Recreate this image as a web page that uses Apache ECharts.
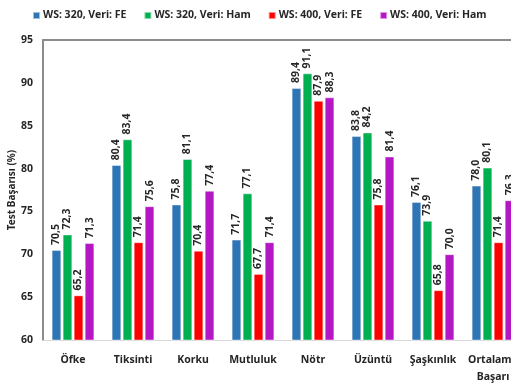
<!DOCTYPE html>
<html>
<head>
<meta charset="utf-8">
<script src="https://cdn.jsdelivr.net/npm/echarts@6/dist/echarts.min.js"></script>
<style>
  html, body { margin: 0; padding: 0; background: #fff; }
  #chart { width: 511px; height: 385px; }
</style>
</head>
<body>
<div id="chart"></div>
<script>
// Emotion categories on the x axis
const categories = ['Öfke', 'Tiksinti', 'Korku', 'Mutluluk', 'Nötr', 'Üzüntü', 'Şaşkınlık', 'Ortalama\nBaşarı'];

// Test accuracy (%) per window size / data type
const ws320Fe  = [70.5, 80.4, 75.8, 71.7, 89.4, 83.8, 76.1, 78.0];
const ws320Ham = [72.3, 83.4, 81.1, 77.1, 91.1, 84.2, 73.9, 80.1];
const ws400Fe  = [65.2, 71.4, 70.4, 67.7, 87.9, 75.8, 65.8, 71.4];
const ws400Ham = [71.3, 75.6, 77.4, 71.4, 88.3, 81.4, 70.0, 76.3];

const seriesNames = ['WS: 320, Veri: FE', 'WS: 320, Veri: Ham', 'WS: 400, Veri: FE', 'WS: 400, Veri: Ham'];
const seriesData = [ws320Fe, ws320Ham, ws400Fe, ws400Ham];
const colors = ['#2E75B6', '#00B050', '#FF0000', '#B617C4'];

const FONT = '"Noto Sans"';
const TEXT = '#262626';

const chart = echarts.init(document.getElementById('chart'));

chart.setOption({
  animation: false,
  color: colors,
  textStyle: { fontFamily: FONT },
  legend: {
    top: 5,
    left: 27,
    itemWidth: 7,
    itemHeight: 7,
    itemGap: 17,
    icon: 'rect',
    textStyle: { fontFamily: FONT, fontWeight: 'bold', fontSize: 10.5, color: TEXT, padding: [0, 0, 0, -2] },
    data: seriesNames
  },
  grid: { left: 43, top: 40, width: 480, height: 300, containLabel: false, outerBoundsMode: 'none' },
  xAxis: [
    {
      type: 'category',
      data: categories,
      axisLine: { show: true, lineStyle: { color: '#d9d9d9', width: 1 } },
      axisTick: { show: false },
      axisLabel: {
        interval: 0,
        margin: 12,
        fontFamily: FONT,
        fontWeight: 'bold',
        fontSize: 10.5,
        color: TEXT,
        lineHeight: 17
      }
    },
    {
      type: 'category',
      position: 'top',
      data: categories,
      axisLine: { show: true, lineStyle: { color: '#8c8c8c', width: 2 } },
      axisTick: { show: false },
      axisLabel: { show: false }
    }
  ],
  yAxis: {
    type: 'value',
    min: 60,
    max: 95,
    interval: 5,
    name: 'Test Başarısı (%)',
    nameLocation: 'middle',
    nameGap: 26,
    nameMoveOverlap: false,
    nameTextStyle: { fontFamily: FONT, fontWeight: 'bold', fontSize: 10, color: TEXT },
    axisLine: { show: true, lineStyle: { color: '#8c8c8c', width: 2 } },
    axisTick: { show: false },
    splitLine: { show: false },
    axisLabel: { margin: 10, fontFamily: FONT, fontWeight: 'bold', fontSize: 10.5, color: TEXT }
  },
  series: seriesData.map((data, i) => ({
    name: seriesNames[i],
    type: 'bar',
    data: data,
    barWidth: 9.5,
    barGap: '16%',
    itemStyle: {
      color: colors[i],
      borderColor: 'rgba(255,255,255,0.55)',
      borderWidth: 0.8
    },
    label: {
      show: true,
      position: 'top',
      rotate: 90,
      align: 'left',
      verticalAlign: 'middle',
      distance: 5,
      fontFamily: FONT,
      fontWeight: 'bold',
      fontSize: 10.5,
      color: TEXT,
      formatter: p => p.value.toFixed(1).replace('.', ',')
    }
  }))
});
</script>
</body>
</html>
